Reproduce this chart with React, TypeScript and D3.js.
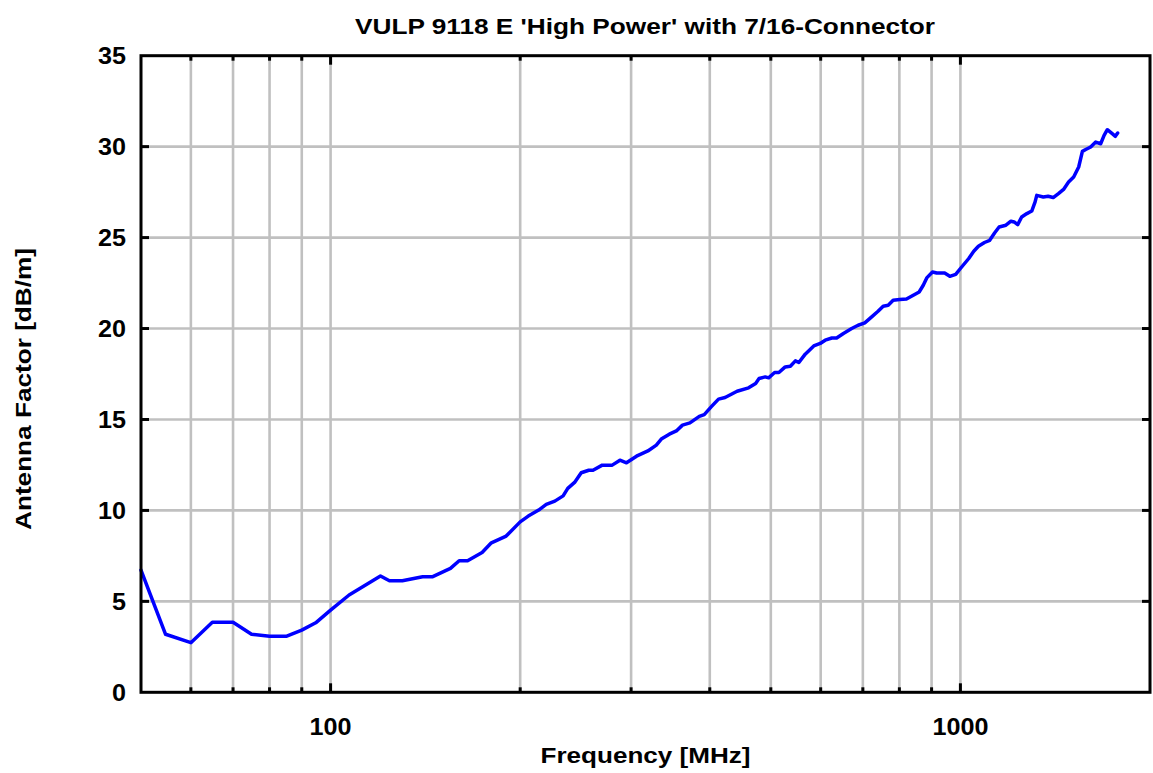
import * as d3 from 'd3';
import { useEffect } from 'react';

const WIDTH = 1153;
const HEIGHT = 773;

const TITLE = "VULP 9118 E 'High Power' with 7/16-Connector";
const X_LABEL = 'Frequency [MHz]';
const Y_LABEL = 'Antenna Factor [dB/m]';

// frequency in MHz
const freqs = [
  50, 54.7, 60, 64.9, 70, 74.9, 80, 85, 90, 94.7, 100, 107, 120, 124, 130, 140,
  145, 155, 160, 165, 174, 180, 190, 200, 206, 214, 220, 227, 234, 238, 244,
  250, 257, 261, 270, 280, 288, 295, 306, 319, 329, 335, 345, 354, 362, 372,
  385, 392, 403, 413, 423, 442, 461, 473, 479, 490, 496, 507, 515, 527, 537,
  547, 554, 567, 585, 599, 610, 625, 636, 652, 672, 688, 705, 723, 740, 754,
  768, 782, 801, 821, 846, 860, 873, 885, 903, 917, 944, 962, 983, 1000, 1031,
  1050, 1068, 1092, 1113, 1133, 1152, 1181, 1203, 1217, 1233, 1251, 1275,
  1298, 1314, 1322, 1354, 1378, 1404, 1431, 1458, 1485, 1513, 1541, 1562,
  1581, 1610, 1640, 1670, 1691, 1711, 1742, 1762, 1777,
];

// antenna factor in dB/m
const factors = [
  6.72, 3.19, 2.73, 3.85, 3.85, 3.19, 3.08, 3.08, 3.42, 3.82, 4.52, 5.35, 6.39,
  6.13, 6.13, 6.35, 6.35, 6.81, 7.23, 7.23, 7.69, 8.22, 8.59, 9.37, 9.69,
  10.02, 10.33, 10.51, 10.8, 11.21, 11.54, 12.07, 12.21, 12.21, 12.49, 12.49,
  12.76, 12.62, 12.98, 13.27, 13.59, 13.92, 14.19, 14.37, 14.69, 14.81, 15.17,
  15.27, 15.73, 16.12, 16.21, 16.55, 16.74, 16.98, 17.25, 17.34, 17.29, 17.58,
  17.58, 17.89, 17.93, 18.22, 18.13, 18.59, 19.04, 19.18, 19.36, 19.48, 19.48,
  19.73, 20.0, 20.18, 20.31, 20.64, 20.95, 21.23, 21.28, 21.55, 21.59, 21.62,
  21.87, 22.01, 22.38, 22.8, 23.11, 23.05, 23.05, 22.87, 22.98, 23.3, 23.85,
  24.25, 24.52, 24.73, 24.85, 25.25, 25.58, 25.68, 25.9, 25.86, 25.71, 26.13,
  26.32, 26.46, 26.96, 27.32, 27.23, 27.27, 27.2, 27.42, 27.65, 28.05, 28.33,
  28.88, 29.74, 29.84, 29.98, 30.25, 30.16, 30.62, 30.93, 30.71, 30.57, 30.75,
];

const xGrid = [60, 70, 80, 90, 100, 200, 300, 400, 500, 600, 700, 800, 900, 1000];
const xMajor = [100, 1000];
const yTicks = [0, 5, 10, 15, 20, 25, 30, 35];

const FONT = "'Liberation Sans', Arial, sans-serif";

export default function App() {
  useEffect(() => {
    document.body.style.margin = '0';
  }, []);

  const left = 141;
  const right = 1150;
  const top = 55.7;
  const bottom = 692.3;

  const x = d3.scaleLog().domain([50, 2000]).range([left, right]);
  const y = d3.scaleLinear().domain([0, 35]).range([bottom, top]);

  const points: [number, number][] = freqs.map((f, i) => [f, factors[i]]);
  const line = d3
    .line<[number, number]>()
    .x((d) => x(d[0]))
    .y((d) => y(d[1]));

  const tickW = 3;

  return (
    <svg
      width={WIDTH}
      height={HEIGHT}
      style={{ display: 'block', background: '#fff' }}
      fontFamily={FONT}
      fontWeight="bold"
    >
      {/* grid */}
      <g stroke="#c0c0c0" strokeWidth={2.6}>
        {xGrid.map((f) => (
          <line key={f} x1={x(f)} x2={x(f)} y1={top} y2={bottom} />
        ))}
        {yTicks.slice(1, -1).map((v) => (
          <line key={v} x1={left} x2={right} y1={y(v)} y2={y(v)} />
        ))}
      </g>

      {/* curve */}
      <path
        d={line(points) ?? ''}
        fill="none"
        stroke="#0000ff"
        strokeWidth={3.5}
        strokeLinejoin="round"
        strokeLinecap="round"
      />

      {/* ticks */}
      <g stroke="#000" strokeWidth={tickW}>
        {xGrid.map((f) => {
          const len = xMajor.includes(f) ? 9 : 5;
          return (
            <g key={f}>
              <line x1={x(f)} x2={x(f)} y1={top} y2={top + len} />
              <line x1={x(f)} x2={x(f)} y1={bottom} y2={bottom - len} />
            </g>
          );
        })}
        {yTicks.slice(1, -1).map((v) => (
          <g key={v}>
            <line x1={left} x2={left + 8} y1={y(v)} y2={y(v)} />
            <line x1={right} x2={right - 8} y1={y(v)} y2={y(v)} />
          </g>
        ))}
      </g>

      {/* frame */}
      <rect
        x={left}
        y={top}
        width={right - left}
        height={bottom - top}
        fill="none"
        stroke="#000"
        strokeWidth={3}
      />

      {/* y tick labels */}
      <g fontSize={23} textAnchor="end" fill="#000">
        {yTicks.map((v) => (
          <text
            key={v}
            x={126}
            y={y(v) + 8.5}
            textLength={String(v).length * 14}
            lengthAdjust="spacingAndGlyphs"
          >
            {v}
          </text>
        ))}
      </g>

      {/* x tick labels */}
      <g fontSize={23} textAnchor="middle" fill="#000">
        {xMajor.map((f) => (
          <text
            key={f}
            x={x(f)}
            y={735}
            textLength={String(f).length * 14}
            lengthAdjust="spacingAndGlyphs"
          >
            {f}
          </text>
        ))}
      </g>

      {/* titles */}
      <text
        x={645}
        y={33.5}
        fontSize={22}
        textAnchor="middle"
        textLength={580}
        lengthAdjust="spacingAndGlyphs"
      >
        {TITLE}
      </text>
      <text
        x={645.5}
        y={763}
        fontSize={22}
        textAnchor="middle"
        textLength={210}
        lengthAdjust="spacingAndGlyphs"
      >
        {X_LABEL}
      </text>
      <text
        transform={`translate(31, 389) rotate(-90)`}
        fontSize={22}
        textAnchor="middle"
        textLength={282}
        lengthAdjust="spacingAndGlyphs"
      >
        {Y_LABEL}
      </text>
    </svg>
  );
}
